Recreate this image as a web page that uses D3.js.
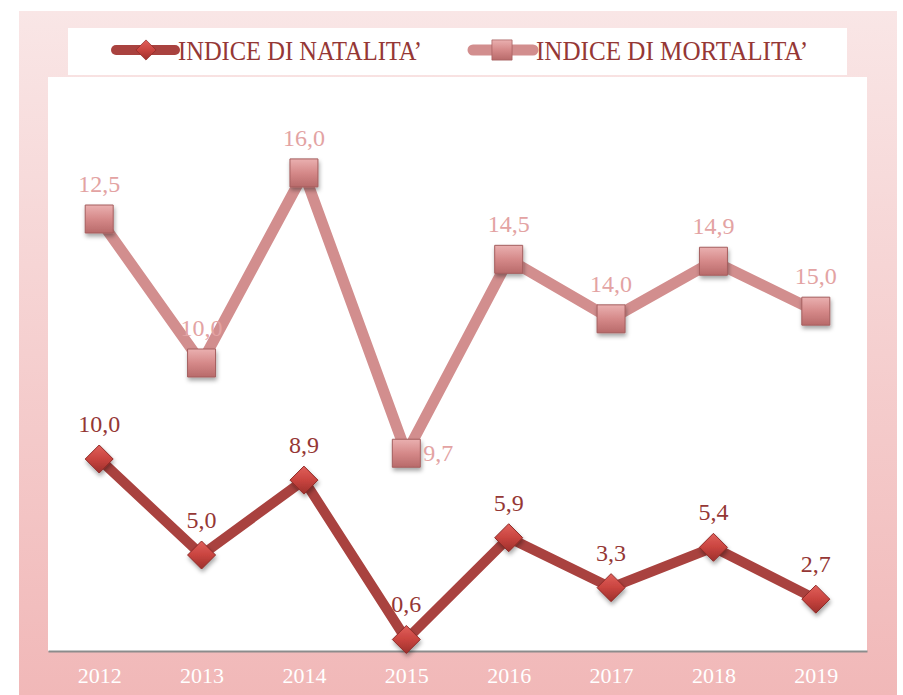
<!DOCTYPE html>
<html>
<head>
<meta charset="utf-8">
<script src="https://d3js.org/d3.v7.min.js"></script>
<style>
  body { margin: 0; background: #fff; }
  text { font-family: "Liberation Serif", "DejaVu Serif", serif; }
</style>
</head>
<body>
<svg width="903" height="695" id="mainSvg"></svg>
<script>
const years = ["2012", "2013", "2014", "2015", "2016", "2017", "2018", "2019"];
const natalita = [10.0, 5.0, 8.9, 0.6, 5.9, 3.3, 5.4, 2.7];
const mortalita = [12.5, 10.0, 16.0, 9.7, 14.5, 14.0, 14.9, 15.0];
const seriesNames = ["INDICE DI NATALITA’", "INDICE DI MORTALITA’"];

const svg = d3.select("#mainSvg");
const defs = svg.append("defs");

// sfondo rosa sfumato
const bg = defs.append("linearGradient").attr("id", "bgGrad")
  .attr("x1", 0).attr("y1", 0).attr("x2", 0).attr("y2", 1);
bg.append("stop").attr("offset", "0%").attr("stop-color", "#f9e6e6");
bg.append("stop").attr("offset", "100%").attr("stop-color", "#f1b8b8");

const dg = defs.append("linearGradient").attr("id", "diaGrad")
  .attr("x1", 0).attr("y1", 0).attr("x2", 0).attr("y2", 1);
dg.append("stop").attr("offset", "0%").attr("stop-color", "#e0605b");
dg.append("stop").attr("offset", "50%").attr("stop-color", "#c9443f");
dg.append("stop").attr("offset", "100%").attr("stop-color", "#9c302c");

const sg = defs.append("linearGradient").attr("id", "sqGrad")
  .attr("x1", 0).attr("y1", 0).attr("x2", 0).attr("y2", 1);
sg.append("stop").attr("offset", "0%").attr("stop-color", "#eab0b0");
sg.append("stop").attr("offset", "50%").attr("stop-color", "#d58989");
sg.append("stop").attr("offset", "100%").attr("stop-color", "#b86a6a");

const shadow = defs.append("filter").attr("id", "shadow")
  .attr("x", "-50%").attr("y", "-50%").attr("width", "200%").attr("height", "200%");
shadow.append("feDropShadow").attr("dx", 1).attr("dy", 3).attr("stdDeviation", 2)
  .attr("flood-color", "#000").attr("flood-opacity", 0.35);

svg.append("rect").attr("x", 19).attr("y", 11).attr("width", 878).attr("height", 684)
  .attr("fill", "url(#bgGrad)");

// area bianca del grafico
const plot = {left: 48, right: 867, top: 77, bottom: 651};
svg.append("rect").attr("x", plot.left).attr("y", plot.top)
  .attr("width", plot.right - plot.left).attr("height", plot.bottom - plot.top)
  .attr("fill", "#fff");

// legenda
svg.append("rect").attr("x", 68).attr("y", 28).attr("width", 779).attr("height", 47)
  .attr("fill", "#fff");

const x = d3.scalePoint().domain(years).range([plot.left, plot.right]).padding(0.5);
const y = d3.scaleLinear().domain([0, 30]).range([plot.bottom, 75]);

// asse x
const xAxis = svg.append("g").attr("transform", `translate(0,${plot.bottom})`)
  .call(d3.axisBottom(x).tickSize(0).tickPadding(16));
xAxis.select(".domain").attr("stroke", "#8c8c8c").attr("stroke-width", 2);
xAxis.selectAll("text").attr("fill", "#fff").attr("font-size", 22)
  .attr("font-family", "Liberation Serif, serif");

const natData = years.map((d, i) => ({year: d, v: natalita[i], y: natalita[i]}));
const morData = years.map((d, i) => ({year: d, v: mortalita[i], y: natalita[i] + mortalita[i]}));

const line = d3.line().x(d => x(d.year)).y(d => y(d.y));

svg.append("path").datum(morData).attr("d", line)
  .attr("fill", "none").attr("stroke", "#d28e8e").attr("stroke-width", 11)
  .attr("stroke-linejoin", "miter");
svg.append("path").datum(natData).attr("d", line)
  .attr("fill", "none").attr("stroke", "#a9423f").attr("stroke-width", 10)
  .attr("stroke-linejoin", "miter");

const diamond = "M0,-14L14,0L0,14L-14,0Z";
const square = "M-14,-14H14V14H-14Z";

svg.selectAll(".sq").data(morData).enter().append("path")
  .attr("class", "sq").attr("d", square)
  .attr("transform", d => `translate(${x(d.year)},${y(d.y)})`)
  .attr("fill", "url(#sqGrad)").attr("stroke", "#a45e5e").attr("stroke-width", 1)
  .attr("filter", "url(#shadow)");
svg.selectAll(".dm").data(natData).enter().append("path")
  .attr("class", "dm").attr("d", diamond)
  .attr("transform", d => `translate(${x(d.year)},${y(d.y)})`)
  .attr("fill", "url(#diaGrad)").attr("stroke", "#8e2a27").attr("stroke-width", 1)
  .attr("filter", "url(#shadow)");

const fmt = v => v.toFixed(1).replace(".", ",");

svg.selectAll(".lm").data(morData).enter().append("text")
  .attr("x", d => d.year === "2015" ? x(d.year) + 17 : x(d.year))
  .attr("y", d => d.year === "2015" ? y(d.y) + 8 : y(d.y) - 27)
  .attr("text-anchor", d => d.year === "2015" ? "start" : "middle")
  .attr("font-size", 24).attr("fill", "#e3a3a3")
  .text(d => fmt(d.v));
svg.selectAll(".ln").data(natData).enter().append("text")
  .attr("x", d => x(d.year))
  .attr("y", d => y(d.y) - 27)
  .attr("text-anchor", "middle")
  .attr("font-size", 24).attr("fill", "#953735")
  .text(d => fmt(d.v));

// voci della legenda
const leg = [
  {name: seriesNames[0], x0: 116, x1: 175, cx: 146, color: "#a9423f", w: 10, shape: diamond, fill: "url(#diaGrad)", stroke: "#8e2a27"},
  {name: seriesNames[1], x0: 473, x1: 533, cx: 502, color: "#d28e8e", w: 11, shape: square, fill: "url(#sqGrad)", stroke: "#a45e5e"}
];
const lg = svg.selectAll(".leg").data(leg).enter().append("g");
lg.append("line").attr("x1", d => d.x0).attr("x2", d => d.x1).attr("y1", 50).attr("y2", 50)
  .attr("stroke", d => d.color).attr("stroke-width", d => d.w).attr("stroke-linecap", "round");
lg.append("path").attr("d", d => d.shape)
  .attr("transform", d => `translate(${d.cx},50) scale(0.72)`)
  .attr("fill", d => d.fill).attr("stroke", d => d.stroke);
lg.append("text").attr("x", d => d.x1 + 3).attr("y", 60)
  .attr("font-size", 28).attr("fill", "#953735")
  .attr("textLength", d => d.name.includes("NATAL") ? 244 : 272)
  .attr("lengthAdjust", "spacingAndGlyphs")
  .text(d => d.name);
</script>
</body>
</html>
